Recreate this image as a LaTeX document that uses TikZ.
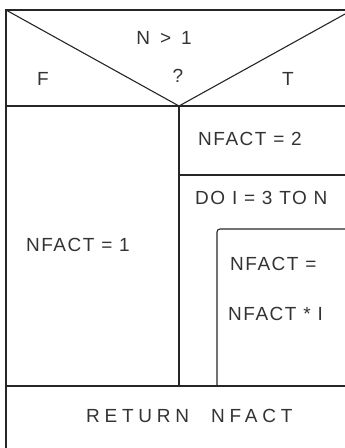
\documentclass[tikz,border=0pt]{standalone}
\usepackage{fontspec}
\newfontfamily\handfont[LetterSpace=8]{Liberation Sans}
\newfontfamily\widefont[LetterSpace=25]{Liberation Sans}
\usetikzlibrary{calc}
\begin{document}
\begin{tikzpicture}[x=1pt,y=-1pt,
  rule/.style={line width=1.1pt,draw=black!85},
  lbl/.style={font=\handfont\fontsize{19}{19}\selectfont,text=black!80,inner sep=0pt},
  widelbl/.style={lbl,font=\widefont\fontsize{19}{19}\selectfont}]
\useasboundingbox (0,0) rectangle (345,448);
% frame corners
\coordinate (tl) at (6,10);
\coordinate (tr) at (345,10);
\coordinate (apex) at (179,106);
\coordinate (condl) at (6,106);
\coordinate (condr) at (345,106);
\coordinate (diagr) at (345,14);
\coordinate (botl) at (6,386);
\coordinate (botr) at (345,386);
\coordinate (divb) at (179,386);
\coordinate (rowl) at (179,175);
\coordinate (rowr) at (345,175);
\coordinate (loopr) at (345,229);
\coordinate (loopb) at (217,386);

% outline and condition
\draw[rule] (tr) -- (tl) -- (6,448);
\draw[rule] (tl) -- (apex) -- (diagr);
\draw[rule] (condl) -- (condr);
\draw[rule] (apex) -- (divb);
\draw[rule] (rowl) -- (rowr);
\draw[rule,rounded corners=3pt] (loopr) -- (217,229) -- (loopb);
\draw[rule] (botl) -- (botr);

% texts
\node[widelbl] (cond) at (164,38) {N > 1};
\node[lbl] (ask) at (178,76) {?};
\node[lbl] (false) at (43,79) {F};
\node[lbl] (true) at (288,79) {T};
\node[lbl,anchor=west] (two) at (198,139) {NFACT = 2};
\node[lbl,anchor=west] (loop) at (195,198) {DO I = 3 TO N};
\node[lbl,anchor=west] (mul1) at (230,264) {NFACT =};
\node[lbl,anchor=west] (mul2) at (228,314) {NFACT * I};
\node[lbl] (one) at (78,245) {NFACT = 1};
\node[widelbl,anchor=west] (ret) at (86,416) {RETURN\hspace*{22pt}NFACT};
\end{tikzpicture}
\end{document}
